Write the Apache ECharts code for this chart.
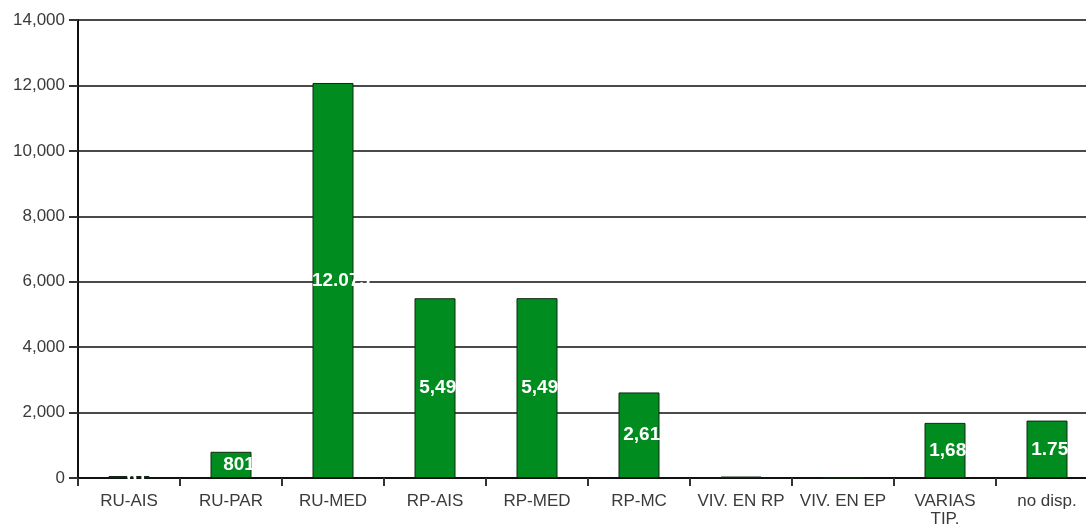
<!DOCTYPE html>
<html>
<head>
<meta charset="utf-8">
<script src="https://cdn.jsdelivr.net/npm/echarts@6/dist/echarts.min.js"></script>
<style>
  html, body { margin: 0; padding: 0; background: #ffffff; }
  #chart { width: 1086px; height: 527px; }
</style>
</head>
<body>
<div id="chart"></div>
<script>
// Housing units by type
const categories = ['RU-AIS', 'RU-PAR', 'RU-MED', 'RP-AIS', 'RP-MED', 'RP-MC',
                    'VIV. EN RP', 'VIV. EN EP', 'VARIAS\nTIP.', 'no disp.'];
const values = [61, 801, 12075, 5495, 5497, 2615, 45, 12, 1685, 1755];
// thousands separator used in each bar's label
const labelSeparators = [',', ',', '.', ',', ',', ',', ',', ',', ',', '.'];
const yTicks = { min: 0, max: 14000, interval: 2000 };

function formatThousands(v, sep) {
  return String(v).replace(/\B(?=(\d{3})+(?!\d))/g, sep);
}

const chart = echarts.init(document.getElementById('chart'), null, { renderer: 'canvas' });

chart.setOption({
  animation: false,
  backgroundColor: '#ffffff',
  grid: {
    left: 78,
    top: 20,
    width: 1020,
    bottom: 49,
    containLabel: false,
    outerBoundsMode: 'none'
  },
  xAxis: {
    type: 'category',
    data: categories,
    boundaryGap: true,
    axisLine: { lineStyle: { color: '#111', width: 2 } },
    axisTick: { show: true, length: 8, alignWithLabel: false, lineStyle: { color: '#333', width: 2 } },
    axisLabel: {
      color: '#3a3a3a',
      fontFamily: 'Liberation Sans, Arial, sans-serif',
      fontSize: 17,
      margin: 14,
      interval: 0,
      lineHeight: 18
    },
    splitLine: { show: false }
  },
  yAxis: {
    type: 'value',
    min: yTicks.min,
    max: yTicks.max,
    interval: yTicks.interval,
    axisLine: { show: true, lineStyle: { color: '#111', width: 2 } },
    axisTick: { show: true, length: 9, lineStyle: { color: '#333', width: 2 } },
    axisLabel: {
      color: '#3a3a3a',
      fontFamily: 'Liberation Sans, Arial, sans-serif',
      fontSize: 17,
      margin: 13,
      formatter: v => formatThousands(v, ',')
    },
    splitLine: { show: true, lineStyle: { color: '#4a4a4a', width: 2 } }
  },
  series: [{
    type: 'bar',
    data: values,
    barWidth: 41,
    itemStyle: {
      color: '#008c1f',
      borderColor: '#0d2a10',
      borderWidth: 1
    },
    label: {
      show: true,
      position: 'inside',
      offset: [8, 0],
      color: '#ffffff',
      fontFamily: 'Liberation Sans, Arial, sans-serif',
      fontWeight: 'bold',
      fontSize: 19,
      formatter: p => p.value < 50 ? '' : formatThousands(p.value, labelSeparators[p.dataIndex])
    }
  }]
});
</script>
</body>
</html>
